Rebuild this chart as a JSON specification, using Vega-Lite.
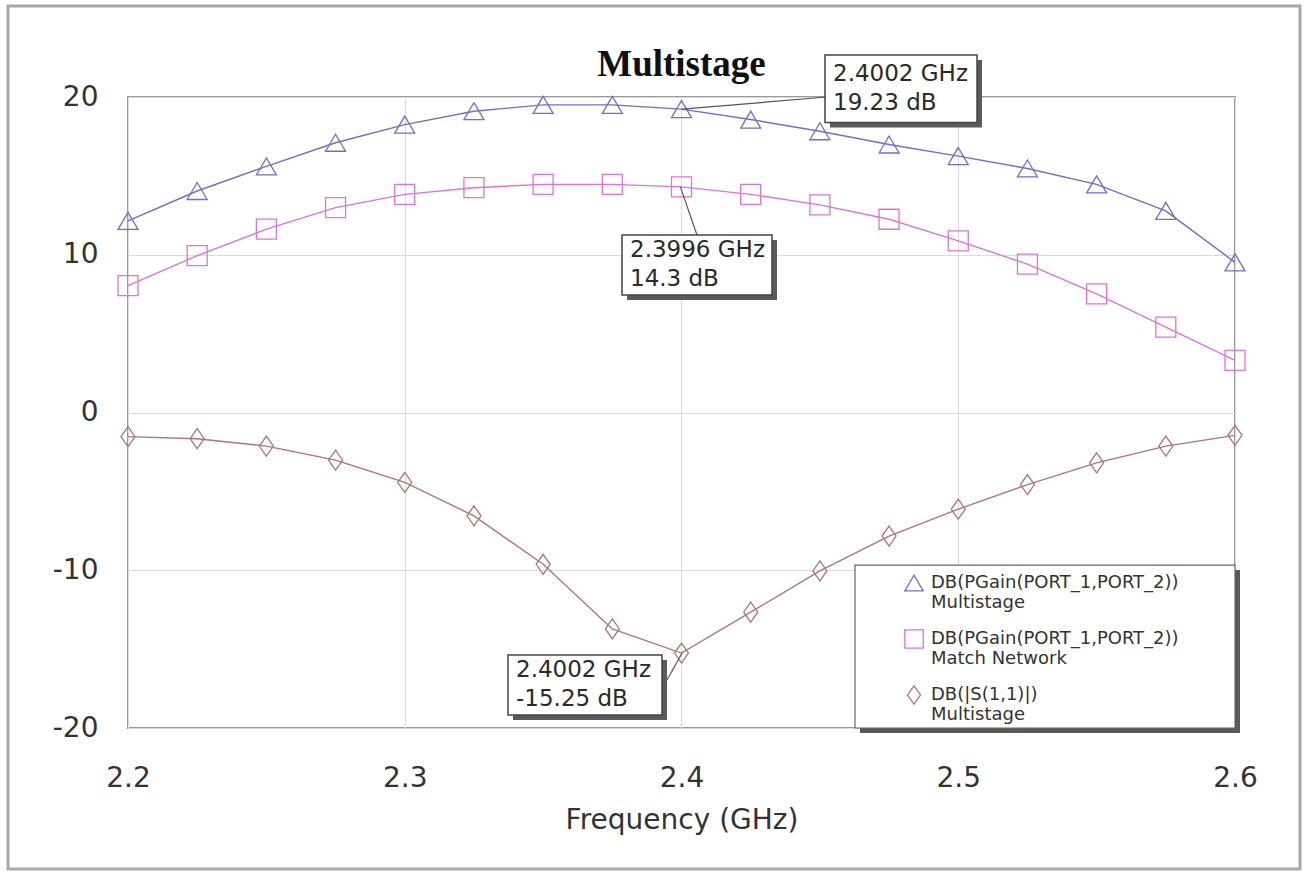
{
  "$schema": "https://vega.github.io/schema/vega-lite/v6.json",
  "width": 1107,
  "height": 631,
  "autosize": {"type": "none"},
  "padding": {"left": 128, "top": 97, "right": 75, "bottom": 147},
  "background": "white",
  "data": {"values": [{"title": "Multistage"}]},
  "datasets": {
    "curves": [
      {"f": 2.2, "v": 12.15, "s": "A"}, {"f": 2.225, "v": 14.04, "s": "A"}, {"f": 2.25, "v": 15.6, "s": "A"}, {"f": 2.275, "v": 17.1, "s": "A"}, {"f": 2.3, "v": 18.25, "s": "A"}, {"f": 2.325, "v": 19.1, "s": "A"}, {"f": 2.35, "v": 19.5, "s": "A"}, {"f": 2.375, "v": 19.5, "s": "A"}, {"f": 2.4, "v": 19.23, "s": "A"}, {"f": 2.425, "v": 18.57, "s": "A"}, {"f": 2.45, "v": 17.83, "s": "A"}, {"f": 2.475, "v": 16.99, "s": "A"}, {"f": 2.5, "v": 16.25, "s": "A"}, {"f": 2.525, "v": 15.47, "s": "A"}, {"f": 2.55, "v": 14.46, "s": "A"}, {"f": 2.575, "v": 12.78, "s": "A"}, {"f": 2.6, "v": 9.52, "s": "A"},
      {"f": 2.2, "v": 8.04, "s": "B"}, {"f": 2.225, "v": 9.94, "s": "B"}, {"f": 2.25, "v": 11.62, "s": "B"}, {"f": 2.275, "v": 12.99, "s": "B"}, {"f": 2.3, "v": 13.83, "s": "B"}, {"f": 2.325, "v": 14.25, "s": "B"}, {"f": 2.35, "v": 14.46, "s": "B"}, {"f": 2.375, "v": 14.46, "s": "B"}, {"f": 2.4, "v": 14.3, "s": "B"}, {"f": 2.425, "v": 13.83, "s": "B"}, {"f": 2.45, "v": 13.16, "s": "B"}, {"f": 2.475, "v": 12.25, "s": "B"}, {"f": 2.5, "v": 10.88, "s": "B"}, {"f": 2.525, "v": 9.41, "s": "B"}, {"f": 2.55, "v": 7.52, "s": "B"}, {"f": 2.575, "v": 5.41, "s": "B"}, {"f": 2.6, "v": 3.31, "s": "B"},
      {"f": 2.2, "v": -1.53, "s": "C"}, {"f": 2.225, "v": -1.66, "s": "C"}, {"f": 2.25, "v": -2.13, "s": "C"}, {"f": 2.275, "v": -3.02, "s": "C"}, {"f": 2.3, "v": -4.43, "s": "C"}, {"f": 2.325, "v": -6.55, "s": "C"}, {"f": 2.35, "v": -9.62, "s": "C"}, {"f": 2.375, "v": -13.72, "s": "C"}, {"f": 2.4, "v": -15.25, "s": "C"}, {"f": 2.425, "v": -12.66, "s": "C"}, {"f": 2.45, "v": -10.04, "s": "C"}, {"f": 2.475, "v": -7.83, "s": "C"}, {"f": 2.5, "v": -6.13, "s": "C"}, {"f": 2.525, "v": -4.57, "s": "C"}, {"f": 2.55, "v": -3.19, "s": "C"}, {"f": 2.575, "v": -2.13, "s": "C"}, {"f": 2.6, "v": -1.45, "s": "C"}
    ],
    "notes": [
      {"id": 1, "f": 2.4002, "v": 19.23, "label": "2.4002 GHz\n19.23 dB"},
      {"id": 2, "f": 2.3996, "v": 14.3, "label": "2.3996 GHz\n14.3 dB"},
      {"id": 3, "f": 2.4002, "v": -15.25, "label": "2.4002 GHz\n-15.25 dB"}
    ]
  },
  "config": {
    "view": {"stroke": "#9a9a9a", "strokeWidth": 2},
    "axis": {"domain": false, "ticks": false, "grid": true, "gridColor": "#dcdcdc", "gridWidth": 1, "labelFont": "DejaVu Sans", "labelFontSize": 28, "labelColor": "#333333", "titleFont": "DejaVu Sans", "titleFontSize": 28, "titleFontWeight": "normal", "titleColor": "#333333"},
    "legend": {"orient": "none", "legendX": 776, "legendY": 476, "title": null, "labelFont": "DejaVu Sans", "labelFontSize": 18, "labelColor": "#333333", "symbolSize": 340, "symbolStrokeWidth": 1.3, "rowPadding": 15, "labelLimit": 400, "labelOffset": 7, "labelBaseline": "middle"}
  },
  "layer": [
    {
      "mark": {"type": "rect", "fill": null, "stroke": "#a8a8a8", "strokeWidth": 3, "clip": false},
      "encoding": {
        "x": {"datum": 2.15664, "type": "quantitative"},
        "x2": {"datum": 2.62349},
        "y": {"datum": 25.77, "type": "quantitative"},
        "y2": {"datum": -28.94}
      }
    },
    {
      "mark": {"type": "text", "font": "Liberation Serif", "fontSize": 37, "fontWeight": "bold", "color": "#111111", "align": "center", "baseline": "middle", "clip": false},
      "encoding": {"x": {"datum": 2.4, "type": "quantitative"}, "y": {"datum": 22.0, "type": "quantitative"}, "text": {"field": "title"}}
    },
    {
      "data": {"name": "curves"},
      "mark": {"type": "line", "strokeWidth": 1.4},
      "encoding": {
        "x": {"field": "f", "type": "quantitative", "scale": {"domain": [2.2, 2.6], "nice": false, "zero": false},
          "axis": {"values": [2.2, 2.3, 2.4, 2.5, 2.6], "format": ".1f", "labelPadding": 36, "title": "Frequency (GHz)", "titlePadding": 14, "labelFlush": false}},
        "y": {"field": "v", "type": "quantitative", "scale": {"domain": [-20, 20], "nice": false, "zero": false},
          "axis": {"values": [-20, -10, 0, 10, 20], "labelExpr": "toString(datum.value)", "labelPadding": 30, "title": null}},
        "color": {"field": "s", "type": "nominal", "scale": {"domain": ["A", "B", "C"], "range": ["#6e6ed2", "#e070e0", "#b07474"]}}
      }
    },
    {
      "data": {"name": "curves"},
      "mark": {"type": "point", "filled": false, "size": 400, "strokeWidth": 1.3, "opacity": 1},
      "encoding": {
        "x": {"field": "f", "type": "quantitative"},
        "y": {"field": "v", "type": "quantitative"},
        "color": {"field": "s", "type": "nominal", "scale": {"domain": ["A", "B", "C"], "range": ["#6e6ed2", "#e070e0", "#b07474"]},
          "legend": {"labelExpr": "datum.value == 'A' ? ['DB(PGain(PORT_1,PORT_2))', 'Multistage'] : datum.value == 'B' ? ['DB(PGain(PORT_1,PORT_2))', 'Match Network'] : ['DB(|S(1,1)|)', 'Multistage']"}},
        "shape": {"field": "s", "type": "nominal", "scale": {"domain": ["A", "B", "C"], "range": ["M0,-0.85L1,0.85L-1,0.85Z", "M-1,-1H1V1H-1Z", "M0,-1L0.7,0L0,1L-0.7,0Z"]},
          "legend": {"labelExpr": "datum.value == 'A' ? ['DB(PGain(PORT_1,PORT_2))', 'Multistage'] : datum.value == 'B' ? ['DB(PGain(PORT_1,PORT_2))', 'Match Network'] : ['DB(|S(1,1)|)', 'Multistage']"}}
      }
    },
    {
      "mark": {"type": "rect", "fill": "#5a5a5a", "clip": false},
      "encoding": {"x": {"datum": 2.4645, "type": "quantitative"}, "x2": {"datum": 2.60181}, "y": {"datum": -9.98, "type": "quantitative"}, "y2": {"datum": -20.32}}
    },
    {
      "mark": {"type": "rect", "fill": "white", "stroke": "#666666", "strokeWidth": 1.2, "clip": false},
      "encoding": {"x": {"datum": 2.46269, "type": "quantitative"}, "x2": {"datum": 2.6}, "y": {"datum": -9.67, "type": "quantitative"}, "y2": {"datum": -20}}
    },
    {
      "data": {"name": "notes"},
      "transform": [{"filter": "datum.id == 1"}],
      "layer": [
        {"mark": {"type": "rule", "color": "#555555", "strokeWidth": 1.2}, "encoding": {"x": {"field": "f", "type": "quantitative"}, "y": {"field": "v", "type": "quantitative"}, "x2": {"datum": 2.45257}, "y2": {"datum": 20.0}}},
        {"mark": {"type": "rect", "fill": "#5a5a5a", "clip": false}, "encoding": {"x": {"datum": 2.45366, "type": "quantitative"}, "x2": {"datum": 2.50858}, "y": {"datum": 22.35, "type": "quantitative"}, "y2": {"datum": 18.07}}},
        {"mark": {"type": "rect", "fill": "white", "stroke": "#444444", "strokeWidth": 1.5, "clip": false}, "encoding": {"x": {"datum": 2.45185, "type": "quantitative"}, "x2": {"datum": 2.50678}, "y": {"datum": 22.66, "type": "quantitative"}, "y2": {"datum": 18.38}}},
        {"mark": {"type": "text", "align": "left", "baseline": "middle", "lineBreak": "\n", "font": "DejaVu Sans", "fontSize": 23, "lineHeight": 29, "color": "#2a2a2a"}, "encoding": {"x": {"datum": 2.45474, "type": "quantitative"}, "y": {"datum": 21.46, "type": "quantitative"}, "text": {"field": "label"}}}
      ]
    },
    {
      "data": {"name": "notes"},
      "transform": [{"filter": "datum.id == 2"}],
      "layer": [
        {"mark": {"type": "rule", "color": "#555555", "strokeWidth": 1.2}, "encoding": {"x": {"field": "f", "type": "quantitative"}, "y": {"field": "v", "type": "quantitative"}, "x2": {"datum": 2.4056}, "y2": {"datum": 11.25}}},
        {"mark": {"type": "rect", "fill": "#5a5a5a", "clip": false}, "encoding": {"x": {"datum": 2.38031, "type": "quantitative"}, "x2": {"datum": 2.43451}, "y": {"datum": 10.94, "type": "quantitative"}, "y2": {"datum": 7.13}}},
        {"mark": {"type": "rect", "fill": "white", "stroke": "#444444", "strokeWidth": 1.5, "clip": false}, "encoding": {"x": {"datum": 2.3785, "type": "quantitative"}, "x2": {"datum": 2.4327}, "y": {"datum": 11.25, "type": "quantitative"}, "y2": {"datum": 7.45}}},
        {"mark": {"type": "text", "align": "left", "baseline": "middle", "lineBreak": "\n", "font": "DejaVu Sans", "fontSize": 23, "lineHeight": 29, "color": "#2a2a2a"}, "encoding": {"x": {"datum": 2.38139, "type": "quantitative"}, "y": {"datum": 10.3, "type": "quantitative"}, "text": {"field": "label"}}}
      ]
    },
    {
      "data": {"name": "notes"},
      "transform": [{"filter": "datum.id == 3"}],
      "layer": [
        {"mark": {"type": "rule", "color": "#555555", "strokeWidth": 1.2}, "encoding": {"x": {"field": "f", "type": "quantitative"}, "y": {"field": "v", "type": "quantitative"}, "x2": {"datum": 2.39476}, "y2": {"datum": -16.96}}},
        {"mark": {"type": "rect", "fill": "#5a5a5a", "clip": false}, "encoding": {"x": {"datum": 2.33912, "type": "quantitative"}, "x2": {"datum": 2.39476}, "y": {"datum": -15.69, "type": "quantitative"}, "y2": {"datum": -19.49}}},
        {"mark": {"type": "rect", "fill": "white", "stroke": "#444444", "strokeWidth": 1.5, "clip": false}, "encoding": {"x": {"datum": 2.33731, "type": "quantitative"}, "x2": {"datum": 2.39296}, "y": {"datum": -15.37, "type": "quantitative"}, "y2": {"datum": -19.18}}},
        {"mark": {"type": "text", "align": "left", "baseline": "middle", "lineBreak": "\n", "font": "DejaVu Sans", "fontSize": 23, "lineHeight": 29, "color": "#2a2a2a"}, "encoding": {"x": {"datum": 2.3402, "type": "quantitative"}, "y": {"datum": -16.32, "type": "quantitative"}, "text": {"field": "label"}}}
      ]
    }
  ]
}
